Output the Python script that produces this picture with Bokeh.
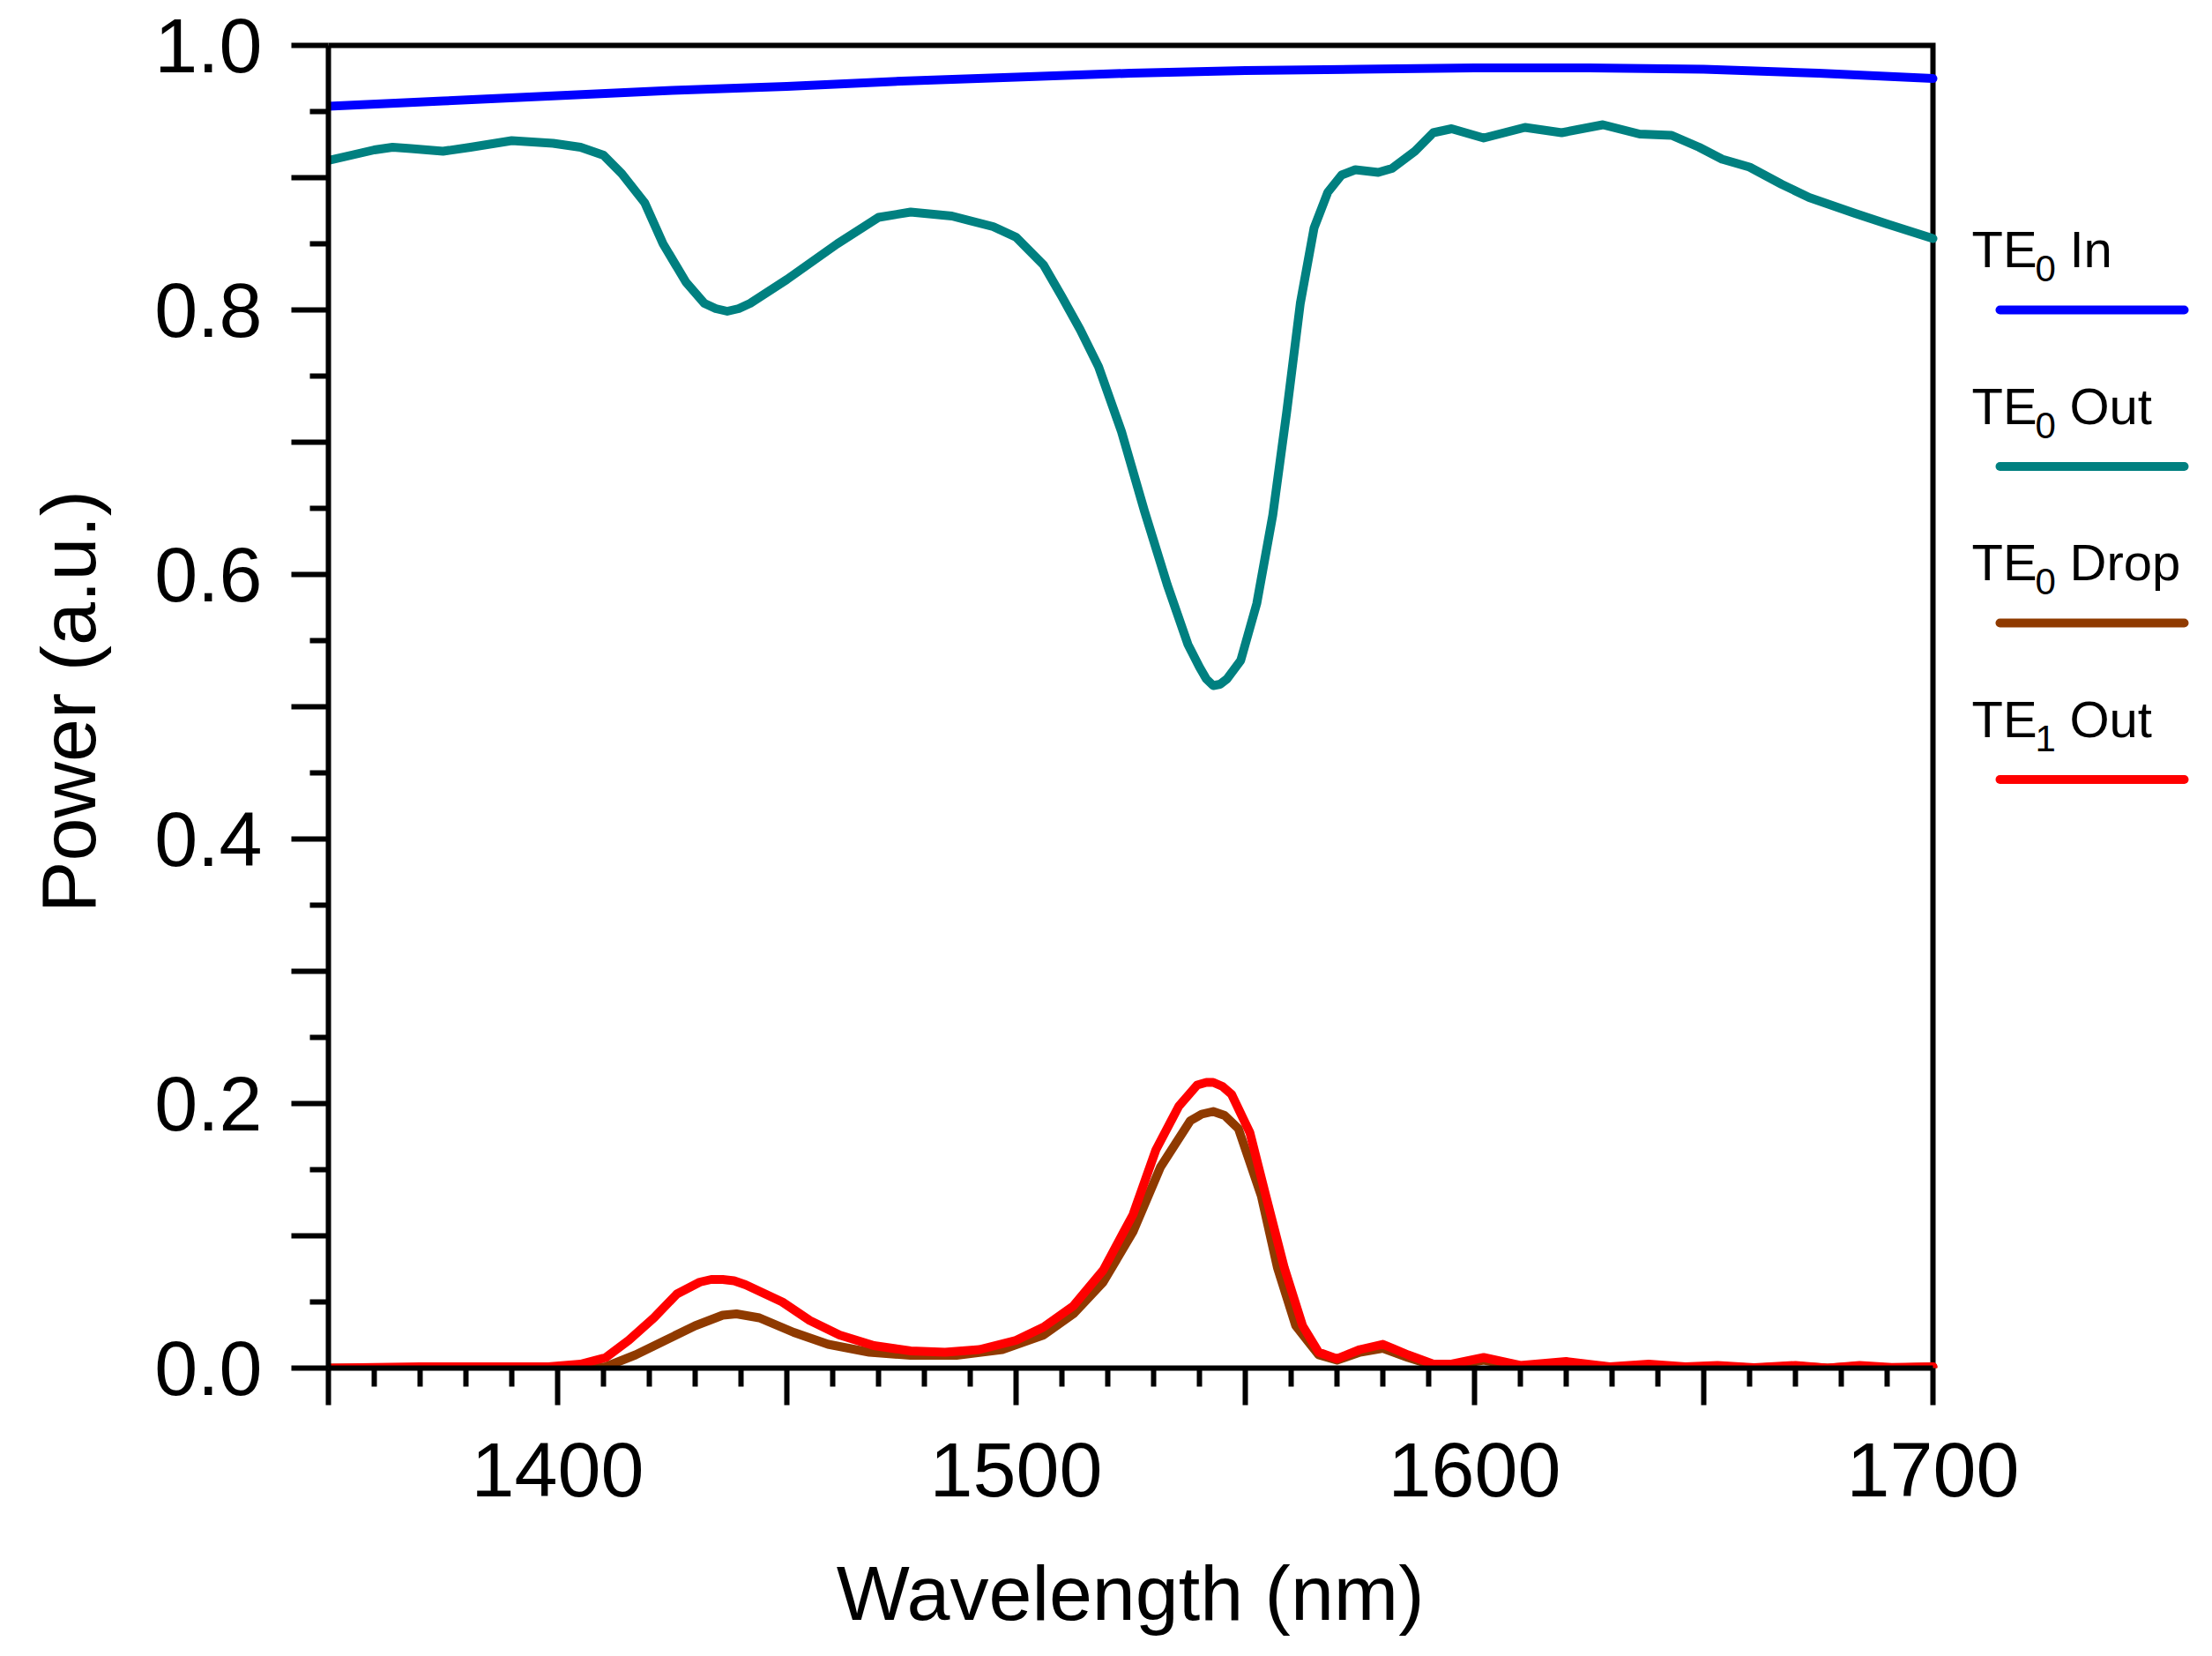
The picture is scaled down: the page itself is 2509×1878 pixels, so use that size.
from bokeh.plotting import figure
from bokeh.models import Range1d, FixedTicker
from bokeh.core.properties import value
from bokeh.embed import file_html
from bokeh.resources import INLINE

# ---------------- data ----------------
wl_in = [1350, 1375, 1400, 1425, 1450, 1475, 1500, 1525, 1550, 1575, 1600, 1625, 1650, 1675, 1700]
te0_in = [0.954, 0.958, 0.962, 0.966, 0.969, 0.973, 0.976, 0.979, 0.981, 0.982, 0.983, 0.983, 0.982, 0.979, 0.975]

wl_out = [1350, 1355, 1360, 1364, 1368, 1375, 1381, 1390, 1399, 1405, 1410, 1414, 1419, 1423, 1428,
          1432, 1434.5, 1437, 1439.5, 1442, 1450, 1461, 1470, 1477, 1486, 1495, 1500, 1506, 1510, 1514,
          1518, 1523, 1528, 1533, 1537.5, 1540, 1541.5, 1543, 1544.5, 1546, 1549, 1552.5, 1556, 1559,
          1562, 1565, 1568, 1571, 1574, 1579, 1582, 1587, 1591, 1595, 1602, 1611, 1619, 1628, 1636,
          1643, 1649, 1654, 1660, 1667, 1673, 1683, 1690, 1700]
te0_out = [0.913, 0.917, 0.921, 0.923, 0.922, 0.920, 0.923, 0.928, 0.926, 0.923, 0.917, 0.903, 0.881, 0.850, 0.821,
           0.805, 0.801, 0.799, 0.801, 0.805, 0.823, 0.850, 0.870, 0.874, 0.871, 0.863, 0.855, 0.834, 0.810, 0.785,
           0.757, 0.708, 0.648, 0.592, 0.547, 0.530, 0.521, 0.516, 0.517, 0.521, 0.535, 0.578, 0.645, 0.722,
           0.805, 0.862, 0.889, 0.902, 0.906, 0.904, 0.907, 0.920, 0.934, 0.937, 0.930, 0.938, 0.934, 0.940, 0.933,
           0.932, 0.923, 0.914, 0.908, 0.895, 0.885, 0.873, 0.865, 0.854]

wl_drop = [1350, 1400, 1410.5, 1417, 1423.5, 1430, 1436, 1439, 1444, 1451.5, 1459, 1468, 1477, 1487, 1497,
           1506, 1512.5, 1519, 1525.5, 1531.5, 1538, 1540.5, 1543, 1545.5, 1548.5, 1553.5, 1557, 1561, 1566, 1570, 1575,
           1580, 1585.5, 1591, 1595, 1602, 1610, 1620, 1630, 1638, 1646, 1653, 1661, 1670, 1677, 1684, 1691, 1700]
te0_drop = [0.000, 0.000, 0.001, 0.010, 0.021, 0.032, 0.040, 0.041, 0.038, 0.027, 0.018, 0.012, 0.0096, 0.0096, 0.014,
            0.025, 0.041, 0.065, 0.103, 0.152, 0.187, 0.192, 0.194, 0.191, 0.181, 0.130, 0.076, 0.032, 0.010, 0.006, 0.012,
            0.015, 0.008, 0.002, 0.002, 0.006, 0.001, 0.004, 0.0005, 0.002, 0.0005, 0.0015, 0.000, 0.0015, 0.000, 0.0015, 0.000, 0.001]

wl_te1 = [1350, 1370, 1385, 1398, 1405, 1410.5, 1415.5, 1421, 1426, 1431, 1433.5, 1436, 1438.5, 1441, 1449, 1455, 1461.5,
          1469, 1477, 1484.5, 1492, 1500, 1506, 1512.5, 1519, 1525.5, 1530.5, 1535.5, 1539.5, 1541.5, 1543, 1545, 1547,
          1551, 1554.5, 1558.5, 1562.5, 1566, 1570, 1575, 1580, 1585.5, 1591, 1595, 1602, 1610, 1620,
          1629.5, 1638, 1646, 1653, 1661, 1670, 1677, 1684, 1691, 1700]
te1_out = [0.000, 0.001, 0.001, 0.001, 0.003, 0.008, 0.021, 0.038, 0.056, 0.065, 0.067, 0.067, 0.066, 0.063, 0.050, 0.036, 0.025,
           0.017, 0.013, 0.012, 0.014, 0.021, 0.031, 0.047, 0.074, 0.116, 0.165, 0.198, 0.214, 0.216, 0.216, 0.213, 0.207,
           0.178, 0.130, 0.076, 0.032, 0.012, 0.007, 0.014, 0.018, 0.010, 0.003, 0.003, 0.008, 0.002, 0.005,
           0.001, 0.003, 0.001, 0.002, 0.0004, 0.002, 0.000, 0.002, 0.0005, 0.001]

series_names = ["In", "Out", "Drop", "Out"]
series_subs = ["0", "0", "0", "1"]
series_colors = ["#0000FF", "#008080", "#8F3A00", "#FF0000"]

x_major = [1350, 1400, 1450, 1500, 1550, 1600, 1650, 1700]
x_minor = [1360, 1370, 1380, 1390, 1410, 1420, 1430, 1440, 1460, 1470, 1480, 1490,
           1510, 1520, 1530, 1540, 1560, 1570, 1580, 1590, 1610, 1620, 1630, 1640,
           1660, 1670, 1680, 1690]
x_labels = {1350: "", 1400: "1400", 1450: "", 1500: "1500", 1550: "", 1600: "1600", 1650: "", 1700: "1700"}
y_major = [0.0, 0.1, 0.2, 0.3, 0.4, 0.5, 0.6, 0.7, 0.8, 0.9, 1.0]
y_minor = [0.05, 0.15, 0.25, 0.35, 0.45, 0.55, 0.65, 0.75, 0.85, 0.95]
y_labels = {0.0: "0.0", 0.1: "", 0.2: "0.2", 0.3: "", 0.4: "0.4", 0.5: "", 0.6: "0.6",
            0.7: "", 0.8: "0.8", 0.9: "", 1.0: "1.0"}
X_MIN, X_MAX, Y_MIN, Y_MAX = 1350, 1700, 0.0, 1.0
x_title = "Wavelength (nm)"
y_title = "Power (a.u.)"

# ---------------- layout (page pixels) ----------------
FONT = "Liberation Sans"
W, H = 2509, 1878
AX_L, AX_R, AX_T, AX_B = 372, 2192, 51, 1551     # where the axes box sits
PAD = 12                                        # room above the box
ppx = (AX_R - AX_L) / (X_MAX - X_MIN)           # pixels per nm
ppy = (AX_B - AX_T) / (Y_MAX - Y_MIN)           # pixels per unit
x_hi = X_MIN + (W - AX_L) / ppx
y_hi = Y_MAX + PAD / ppy

p = figure(width=W, height=H, output_backend="svg", toolbar_location=None,
           x_range=Range1d(X_MIN, x_hi), y_range=Range1d(Y_MIN, y_hi),
           min_border_left=AX_L, min_border_right=0,
           min_border_top=AX_T - PAD, min_border_bottom=H - AX_B)
p.background_fill_color = "white"
p.border_fill_color = "white"
p.outline_line_color = None
p.xgrid.visible = False
p.ygrid.visible = False

for ax in (p.xaxis[0], p.yaxis[0]):
    ax.axis_line_width = 6
    ax.axis_line_color = "black"
    ax.major_tick_line_width = 6
    ax.minor_tick_line_width = 6
    ax.major_tick_line_color = "black"
    ax.minor_tick_line_color = "black"
    ax.major_tick_in = 0
    ax.minor_tick_in = 0
    ax.major_tick_out = 42
    ax.minor_tick_out = 21
    ax.major_label_text_font = FONT
    ax.major_label_text_font_size = "88px"
    ax.major_label_text_color = "black"
    ax.axis_label_text_font = FONT
    ax.axis_label_text_font_size = "88px"
    ax.axis_label_text_font_style = "normal"
    ax.axis_label_text_color = "black"

# the frame also holds the legend, so the x title is padded on the right with
# no-break spaces to centre it under the axes box instead of under the frame
frame_mid = AX_L + (W - AX_L) / 2.0
box_mid = (AX_L + AX_R) / 2.0
nbsp_w = 0.278 * 88
n_pad = int(round(2 * (frame_mid - box_mid) / nbsp_w))

p.xaxis.ticker = FixedTicker(ticks=x_major, minor_ticks=x_minor)
p.xaxis.major_label_overrides = x_labels
p.xaxis.bounds = (X_MIN, X_MAX)
p.xaxis.major_label_standoff = 43
p.xaxis.axis_label = x_title + "\u00a0" * n_pad
p.xaxis.axis_label_standoff = 57

p.yaxis.ticker = FixedTicker(ticks=y_major, minor_ticks=y_minor)
p.yaxis.major_label_overrides = y_labels
p.yaxis.bounds = (Y_MIN, Y_MAX)
p.yaxis.major_label_standoff = 33
p.yaxis.axis_label = y_title
p.yaxis.axis_label_standoff = 45

# top and right frame lines
p.line([X_MIN, X_MAX, X_MAX], [Y_MAX, Y_MAX, Y_MIN], line_color="black", line_width=6,
       line_join="miter", line_cap="square")

lw = 10
p.line(wl_in, te0_in, line_color=series_colors[0], line_width=lw, line_join="round", line_cap="round")
p.line(wl_out, te0_out, line_color=series_colors[1], line_width=lw, line_join="round", line_cap="round")
p.line(wl_drop, te0_drop, line_color=series_colors[2], line_width=lw, line_join="round", line_cap="round")
p.line(wl_te1, te1_out, line_color=series_colors[3], line_width=lw, line_join="round", line_cap="round")

# ---------------- legend (right of the axes box) ----------------
def px2x(xp):
    return X_MIN + (xp - AX_L) / ppx

def px2y(yp):
    return Y_MAX - (yp - AX_T) / ppy

base0, line0, step = 282, 351, 177.5
bases = [base0 + i * step for i in range(4)]
lines_y = [line0 + i * step for i in range(4)]
p.text(x=[px2x(2236)] * 4, y=[px2y(b) for b in bases], text=["TE"] * 4,
       text_font=value(FONT), text_font_size="58px", text_color="black",
       text_baseline="alphabetic", text_align="left")
p.text(x=[px2x(2308)] * 4, y=[px2y(b + 22) for b in bases], text=series_subs,
       text_font=value(FONT), text_font_size="42px", text_color="black",
       text_baseline="alphabetic", text_align="left")
p.text(x=[px2x(2347)] * 4, y=[px2y(b) for b in bases], text=series_names,
       text_font=value(FONT), text_font_size="58px", text_color="black",
       text_baseline="alphabetic", text_align="left")
p.segment(x0=[px2x(2268)] * 4, y0=[px2y(v) for v in lines_y],
          x1=[px2x(2477)] * 4, y1=[px2y(v) for v in lines_y],
          line_color=series_colors, line_width=10, line_cap="round")

open("out.html", "w").write(file_html(p, INLINE))
